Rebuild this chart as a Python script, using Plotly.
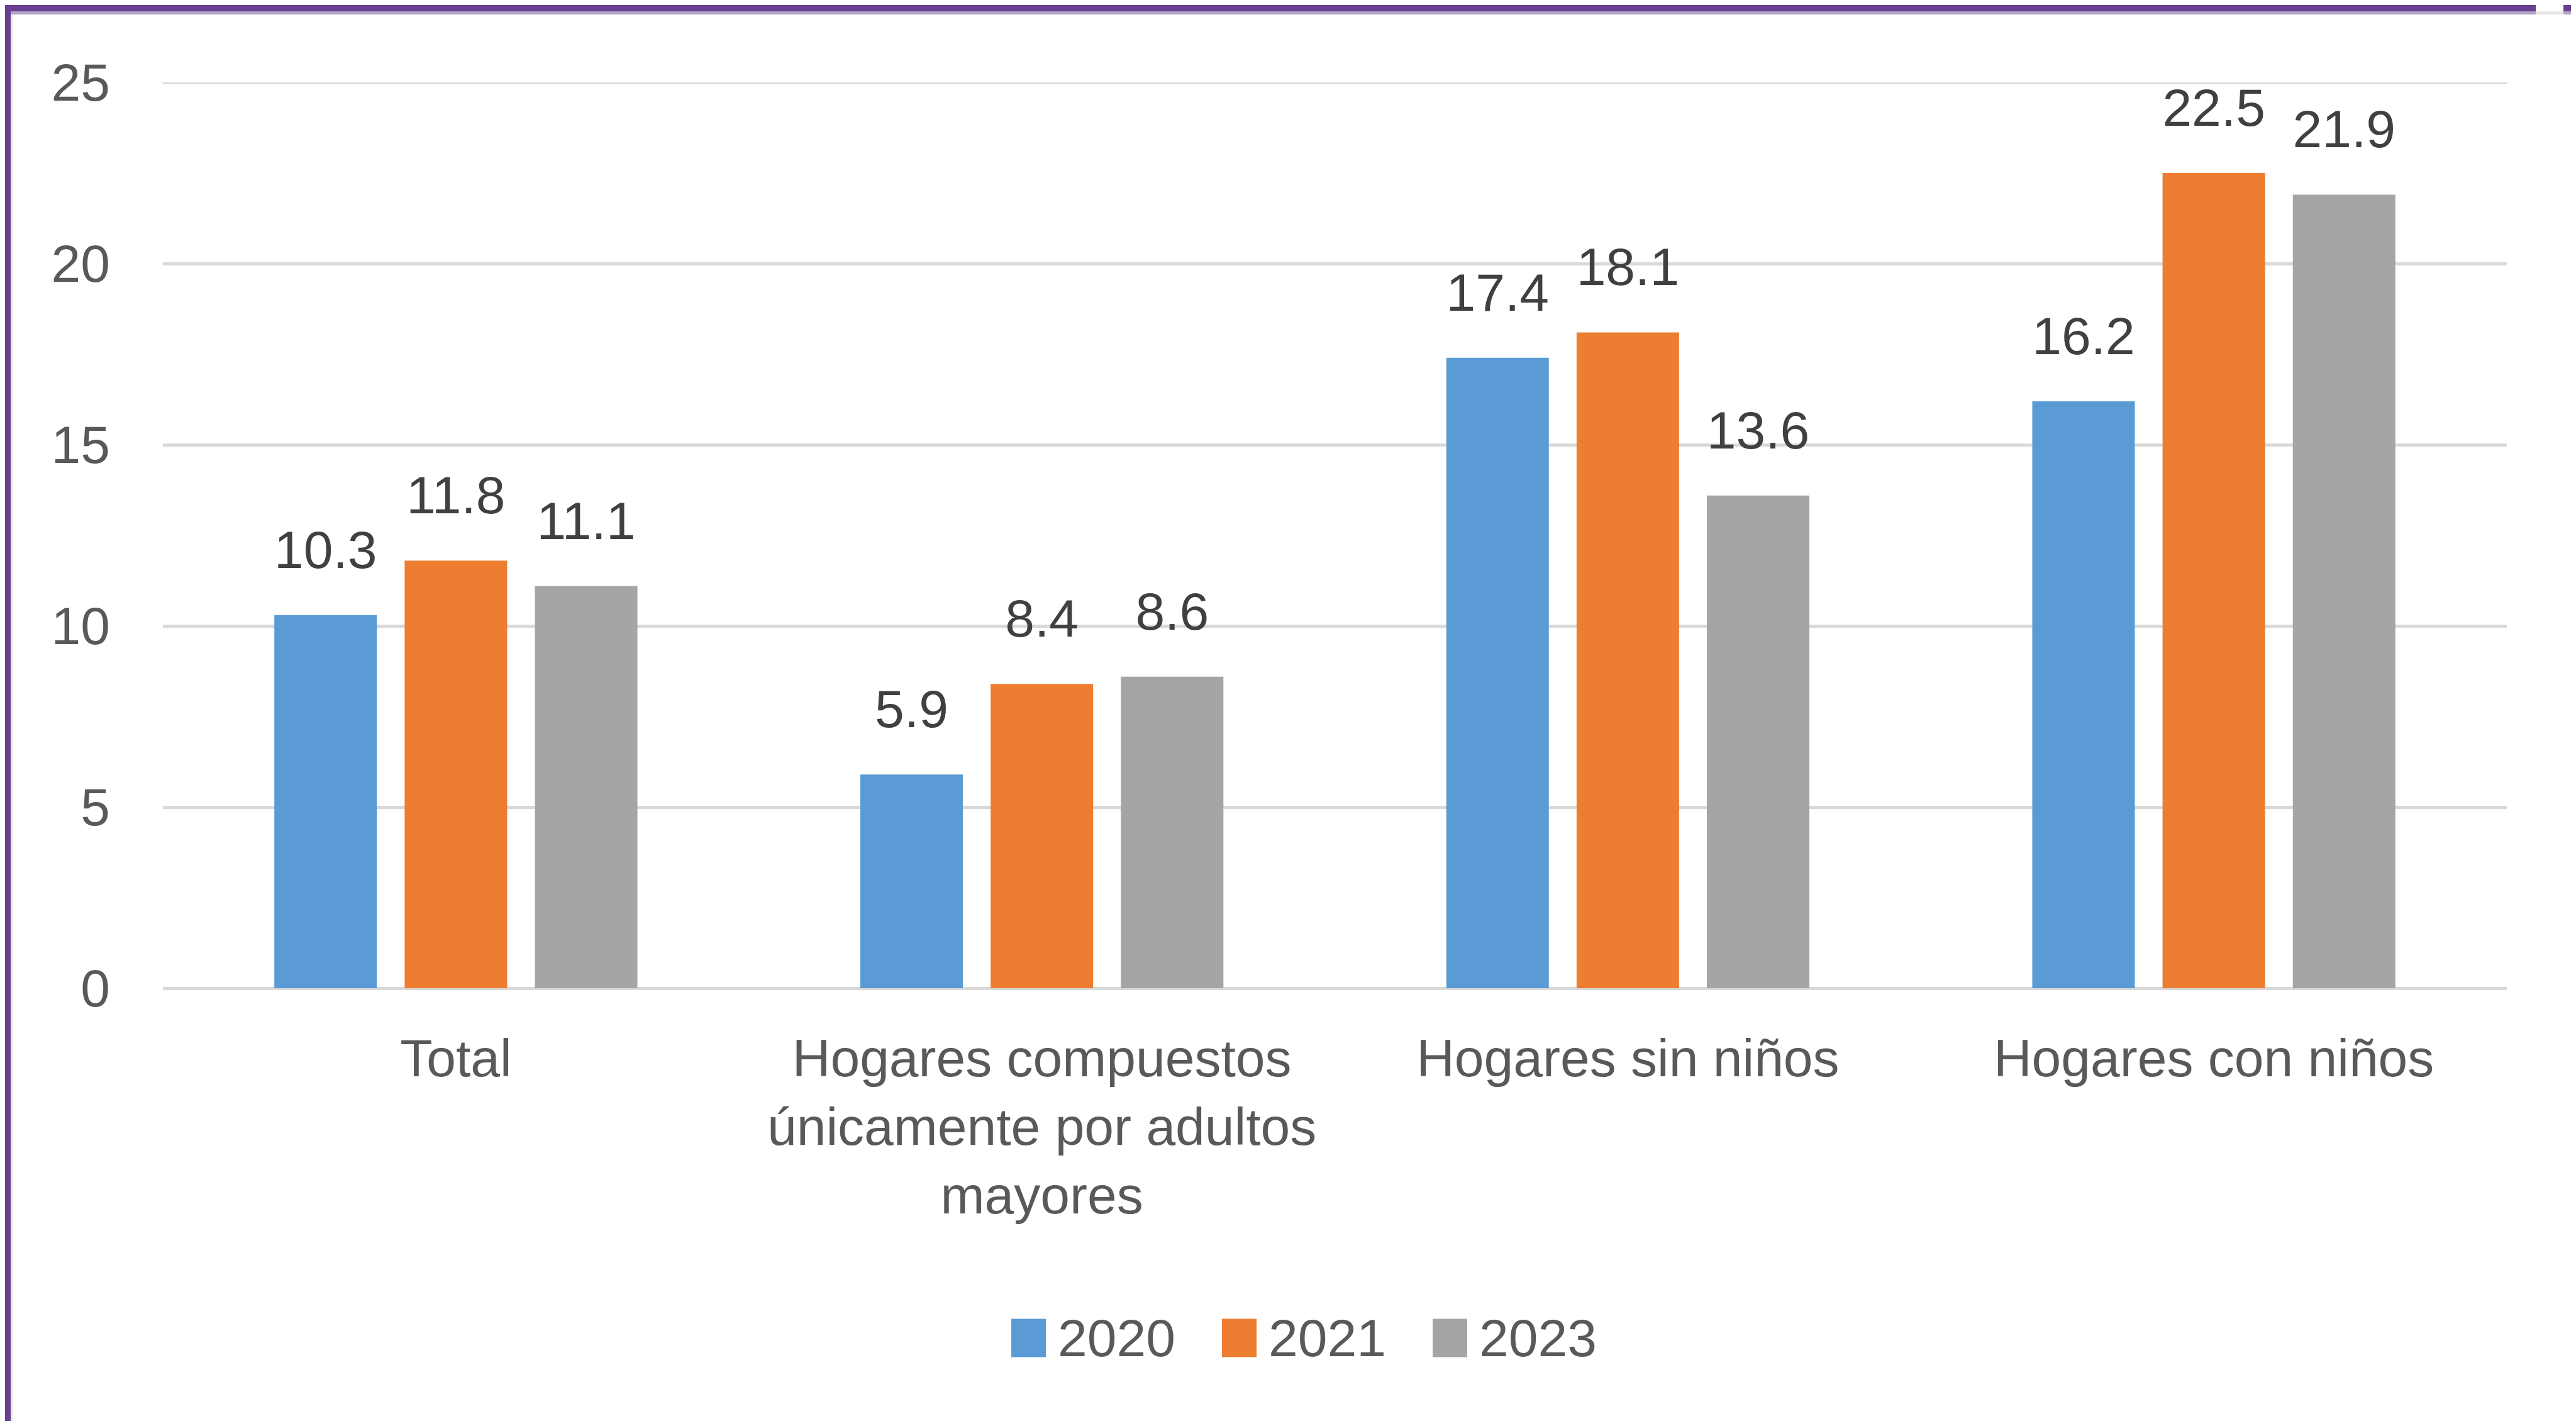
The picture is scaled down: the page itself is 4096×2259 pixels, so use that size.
import plotly.graph_objects as go

# ---------------- data ----------------
categories = [
    "Total",
    "Hogares compuestos<br>únicamente por adultos<br>mayores",
    "Hogares sin niños",
    "Hogares con niños",
]
series_names = ["2020", "2021", "2023"]
values_2020 = [10.3, 5.9, 17.4, 16.2]
values_2021 = [11.8, 8.4, 18.1, 22.5]
values_2023 = [11.1, 8.6, 13.6, 21.9]
series_colors = ["#5B9BD5", "#ED7D31", "#A5A5A5"]
y_tick_values = [0, 5, 10, 15, 20, 25]

# ---------------- layout constants ----------------
W, H = 4096, 2259
L, R, T, B = 251, 118, 123, 696
FONT = "Liberation Sans"
FS = 84
LABEL_COLOR = "#595959"
DATA_LABEL_COLOR = "#404040"
GRID_COLOR = "#D9D9D9"

PW = W - L - R
PH = H - T - B


def px_x(p):
    return (p - L) / PW


def px_y(p):
    return (H - B - p) / PH


series_values = [values_2020, values_2021, values_2023]

fig = go.Figure()

for name, vals, col in zip(series_names, series_values, series_colors):
    fig.add_trace(
        go.Bar(
            x=categories,
            y=vals,
            name=name,
            marker=dict(color=col, line=dict(width=0)),
            showlegend=False,
            hoverinfo="x+y+name",
        )
    )

# data labels (grouped like the bars, raised via an invisible marker)
for name, vals in zip(series_names, series_values):
    fig.add_trace(
        go.Scatter(
            x=categories,
            y=vals,
            name=name,
            mode="markers+text",
            text=[f"{v:.1f}" for v in vals],
            textposition="top center",
            textfont=dict(family=FONT, size=FS, color=DATA_LABEL_COLOR),
            marker=dict(size=85, opacity=0),
            cliponaxis=False,
            showlegend=False,
            hoverinfo="skip",
        )
    )

fig.update_layout(
    width=W,
    height=H,
    margin=dict(l=L, r=R, t=T, b=B, pad=0),
    paper_bgcolor="white",
    plot_bgcolor="white",
    barmode="group",
    bargap=0.333,
    bargroupgap=0.213,
    scattermode="group",
    scattergap=0.333,
    showlegend=False,
    font=dict(family=FONT, size=FS, color=LABEL_COLOR),
)

fig.update_yaxes(
    range=[0, 25],
    tickvals=y_tick_values,
    showgrid=True,
    gridcolor=GRID_COLOR,
    gridwidth=5,
    zeroline=True,
    zerolinecolor=GRID_COLOR,
    zerolinewidth=5,
    showline=False,
    ticks="",
    tickfont=dict(family=FONT, size=FS, color=LABEL_COLOR),
    ticklabelstandoff=83,
)
fig.update_xaxes(
    showgrid=False,
    showline=False,
    ticks="",
    tickfont=dict(family=FONT, size=FS, color=LABEL_COLOR),
    ticklabelstandoff=55,
)

# top gridline (at the upper edge of the value range)
fig.add_shape(
    type="line",
    xref="paper", yref="y",
    x0=0, x1=1, y0=y_tick_values[-1], y1=y_tick_values[-1],
    line=dict(color=GRID_COLOR, width=5),
    layer="below",
)

# ---------------- manual legend ----------------
legend_x0 = 1600
legend_pitch = 335
legend_sw = 55
legend_sh = 61
legend_cy = 2119
legend_text_gap = 17
for i, (name, col) in enumerate(zip(series_names, series_colors)):
    x0 = legend_x0 + i * legend_pitch
    fig.add_shape(
        type="rect",
        xref="paper", yref="paper",
        x0=px_x(x0), x1=px_x(x0 + legend_sw),
        y0=px_y(legend_cy + legend_sh / 2), y1=px_y(legend_cy - legend_sh / 2),
        fillcolor=col, line=dict(width=0),
    )
    fig.add_annotation(
        xref="paper", yref="paper",
        x=px_x(x0 + legend_sw + legend_text_gap), y=px_y(legend_cy),
        xanchor="left", yanchor="middle",
        text=name, showarrow=False,
        font=dict(family=FONT, size=FS, color=LABEL_COLOR),
    )

# ---------------- frame (window border) ----------------
PURPLE = "#693F8F"
LIGHT_PURPLE = "#B3A2C7"
border_rects = [
    (0, 0, W, 10, PURPLE),
    (0, 10, W, 15, LIGHT_PURPLE),
    (4024, 0, 4068, 15, "#FFFFFF"),
    (4024, 10, 4068, 15, "#E8E8E8"),
    (0, 0, 9, H, PURPLE),
    (9, 15, 13, H, "#EBEBEB"),
    (4083, 15, 4090, H, "#EBEBEB"),
    (4091, 0, 4096, 262, "#8E6FAE"),
    (4091, 262, 4096, H, "#E4E0E8"),
]
for x0, y0, x1, y1, c in border_rects:
    fig.add_shape(
        type="rect",
        xref="paper", yref="paper",
        x0=px_x(x0), x1=px_x(x1),
        y0=px_y(y1), y1=px_y(y0),
        fillcolor=c, line=dict(width=0), layer="above",
    )

fig.write_html("out.html")
